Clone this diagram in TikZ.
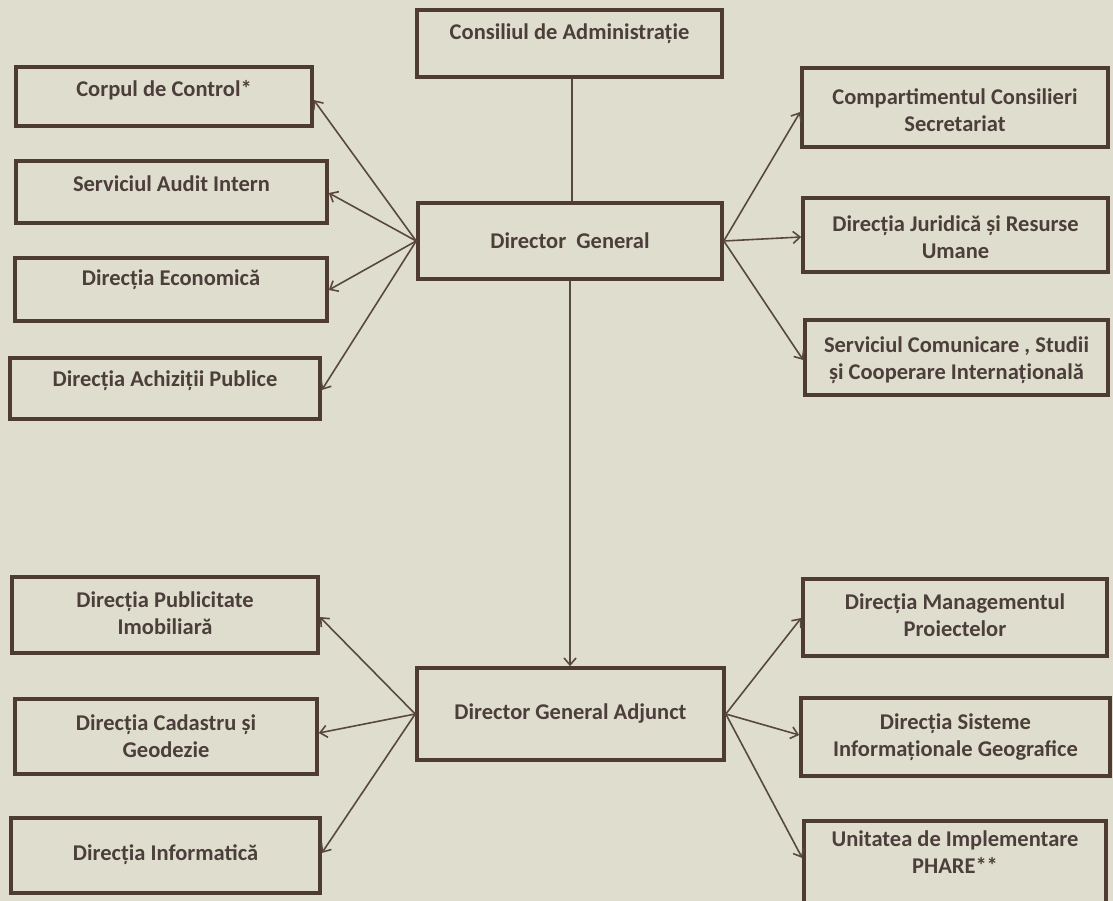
\documentclass[tikz,border=0pt]{standalone}
\usepackage{fontspec}
\setmainfont{Carlito}
\usetikzlibrary{arrows.meta,calc}
\definecolor{bg}{RGB}{223,222,206}
\definecolor{boxline}{RGB}{78,60,50}
\definecolor{conn}{RGB}{88,72,64}
\definecolor{txtc}{RGB}{76,62,58}
\tikzset{
  orgbox/.style={draw=boxline, line width=3.6pt, fill=bg, inner sep=0pt},
  orgtxt/.style={text=txtc, font=\fontsize{22.5}{27}\selectfont\bfseries, align=center, inner sep=0pt},
  conline/.style={draw=conn, line width=1.6pt},
  arr/.style={conline, -{Straight Barb[length=7pt,width=12pt,line width=1.6pt]}}
}
\newcommand{\obox}[5]{% name, x1, y1, x2, y2
  \node[orgbox, minimum width={#4-#2}, minimum height={#5-#3}] (#1) at ({(#2+#4)/2},{(#3+#5)/2}) {};}
\begin{document}
\begin{tikzpicture}[x=1pt,y=-1pt]
\useasboundingbox (0,0) rectangle (1113,901);
\fill[bg] (0,0) rectangle (1113,901);
% boxes
\obox{cons}{417}{10}{722}{77}
\obox{corp}{16}{67}{312}{126}
\obox{audit}{16}{161}{327}{223}
\obox{econ}{15}{258}{327}{321}
\obox{achiz}{10}{358}{320}{419}
\obox{dg}{418}{203}{722}{279}
\obox{comp}{802}{68}{1108}{147}
\obox{jur}{803}{198}{1108}{272}
\obox{serv}{805}{320}{1108}{395}
\obox{publ}{12}{577}{318}{653}
\obox{cad}{15}{699}{317}{774}
\obox{inf}{11}{818}{320}{893}
\obox{dga}{417}{668}{724}{760}
\obox{man}{803}{579}{1107}{656}
\obox{sis}{801}{698}{1110}{776}
\obox{phare}{804}{821}{1106}{903}
% texts
\node[orgtxt] (tcons) at ($(cons.center)+(0,-10)$) {Consiliul de Administrație};
\node[orgtxt] (tcorp) at ($(corp.center)+(0,-6)$) {Corpul de Control*};
\node[orgtxt] (taudit) at ($(audit.center)+(0,-8)$) {Serviciul Audit Intern};
\node[orgtxt] (tecon) at ($(econ.center)+(0,-10)$) {Direcția Economică};
\node[orgtxt] (tachiz) at ($(achiz.center)+(0,-8)$) {Direcția Achiziții Publice};
\node[orgtxt] (tdg) at ($(dg.center)+(0,0)$) {Director\ \ General};
\node[orgtxt] (tcomp) at ($(comp.center)+(0,3)$) {Compartimentul Consilieri\\Secretariat};
\node[orgtxt] (tjur) at ($(jur.center)+(0,2)$) {Direcția Juridică și Resurse\\Umane};
\node[orgtxt] (tserv) at ($(serv.center)+(0,3)$) {Serviciul Comunicare , Studii\\și Cooperare Internațională};
\node[orgtxt] (tpubl) at ($(publ.center)+(0,-2)$) {Direcția Publicitate\\Imobiliară};
\node[orgtxt] (tcad) at ($(cad.center)+(0,0)$) {Direcția Cadastru și\\Geodezie};
\node[orgtxt] (tinf) at ($(inf.center)+(0,-1)$) {Direcția Informatică};
\node[orgtxt] (tdga) at ($(dga.center)+(0,0)$) {Director General Adjunct};
\node[orgtxt] (tman) at ($(man.center)+(0,-2)$) {Direcția Managementul\\Proiectelor};
\node[orgtxt] (tsis) at ($(sis.center)+(0,0)$) {Direcția Sisteme\\Informaționale Geografice};
\node[orgtxt] (tphare) at ($(phare.center)+(0,-10)$) {Unitatea de Implementare\\PHARE**};
% anchor points
\coordinate (dgL) at (dg.west);
\coordinate (dgR) at (dg.east);
\coordinate (dgaL) at (dga.west);
\coordinate (dgaR) at (dga.east);
% connectors
\draw[conline] (cons.south -| 572,0) -- (dg.north -| 572,0);
\draw[arr] (dg.south -| 570,0) -- (dga.north -| 570,0);
\draw[arr] (dgL) -- (corp.east |- 0,100);
\draw[arr] (dgL) -- (audit.east |- 0,193);
\draw[arr] (dgL) -- (econ.east |- 0,290);
\draw[arr] (dgL) -- (achiz.east |- 0,390);
\draw[arr] (dgR) -- (comp.west |- 0,112);
\draw[arr] (dgR) -- (jur.west |- 0,237);
\draw[arr] (dgR) -- (serv.west |- 0,360);
\draw[arr] (dgaL) -- (publ.east |- 0,617);
\draw[arr] (dgaL) -- (cad.east |- 0,733);
\draw[arr] (dgaL) -- (inf.east |- 0,853);
\draw[arr] (dgaR) -- (man.west |- 0,618);
\draw[arr] (dgaR) -- (sis.west |- 0,735);
\draw[arr] (dgaR) -- (phare.west |- 0,858);
\end{tikzpicture}
\end{document}
